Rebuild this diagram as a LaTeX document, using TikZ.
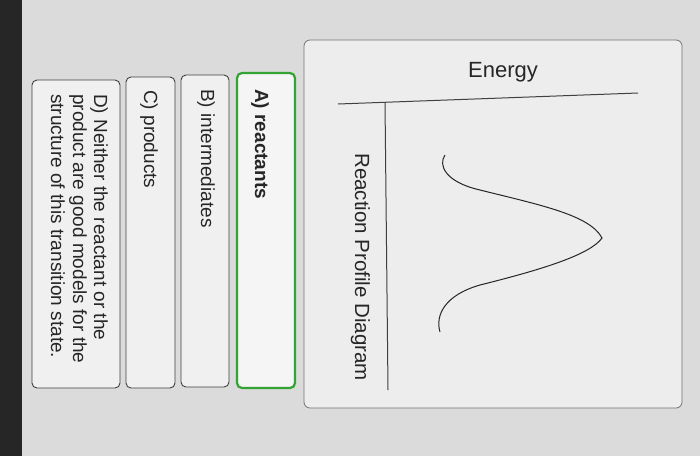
\documentclass[tikz,border=0pt]{standalone}
\usepackage{fontspec}
\setmainfont{Liberation Sans}
\begin{document}
\begin{tikzpicture}[x=1pt,y=-1pt,
  opt/.style={draw=black!75,line width=0.9pt,rounded corners=5pt,fill=black!6},
  lbl/.style={rotate=-90,anchor=base west,inner sep=0pt,font=\fontsize{19}{21}\selectfont,text=black!85},
  ax/.style={draw=black!75,line width=1pt}]
\path[use as bounding box,fill=black!14] (0,0) rectangle (700,456);
\fill[black!85] (0,0) rectangle (22,456);
% diagram panel
\draw[draw=black!55,fill=black!7,rounded corners=6pt,line width=0.8pt] (304,40) rectangle (682,408);
\node[font=\fontsize{22}{24}\selectfont,text=black!85] (energy) at (503,72) {Energy};
\coordinate (h1) at (338,104); \coordinate (h2) at (638,93);
\coordinate (v1) at (385,102); \coordinate (v2) at (388,390);
\draw[ax] (h1) -- (h2);
\draw[ax] (v1) -- (v2);
\node[lbl,font=\fontsize{20.5}{22}\selectfont] (rpd) at (355,153) {Reaction Profile Diagram};
\coordinate (c0) at (445,155); \coordinate (pk) at (602,238); \coordinate (c1) at (440,332);
\draw[black!85,line width=1pt] (c0) .. controls (438,165) and (445,182) .. (480,190)
  .. controls (540,205) and (590,215) .. (pk)
  .. controls (590,255) and (540,270) .. (480,285)
  .. controls (445,295) and (435,315) .. (c1);
% options
\draw[opt,draw=green!55!black!80,line width=2.2pt,fill=black!4] (237,73) rectangle (295,388);
\node[lbl,font=\fontsize{19}{21}\selectfont\bfseries] (a) at (255,89) {A) reactants};
\draw[opt] (181,75) rectangle (229,387); \node[lbl] (b) at (201,89) {B) intermediates};
\draw[opt] (126,77) rectangle (175,388); \node[lbl] (c) at (144,90) {C) products};
\draw[opt] (32,80) rectangle (120,388);
\node[lbl] (d1) at (94,94) {D) Neither the reactant or the};
\node[lbl] (d2) at (73,94) {product are good models for the};
\node[lbl] (d3) at (51,94) {structure of this transition state.};
\end{tikzpicture}
\end{document}
